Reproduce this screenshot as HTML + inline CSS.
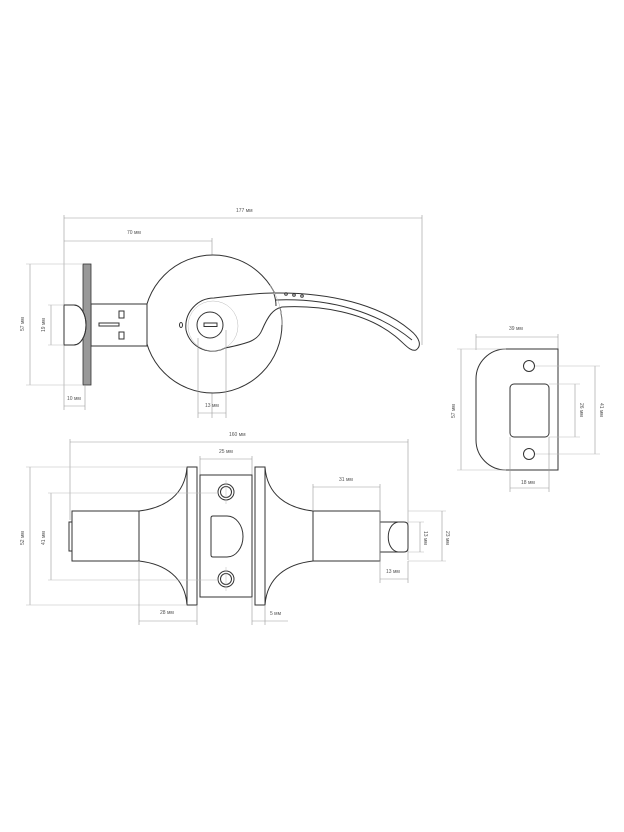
<!DOCTYPE html>
<html><head><meta charset="utf-8"><style>
html,body{margin:0;padding:0;background:#fff;}
svg{display:block}
text{font-family:"Liberation Sans",sans-serif;font-size:5px;fill:#555;}
.o{fill:#fff;stroke:#333;stroke-width:1}
.n{fill:none;stroke:#333;stroke-width:1}
.d{stroke:#999;stroke-width:0.6;fill:none}
.g{stroke:#bbb;stroke-width:0.5;fill:none}
</style></head><body>
<svg width="624" height="832" viewBox="0 0 624 832" xmlns="http://www.w3.org/2000/svg">
<!-- TOP VIEW -->
<g>
<line class="d" x1="64" y1="218" x2="422" y2="218"/><text x="236" y="212">177 мм</text>
<line class="d" x1="64" y1="241" x2="212" y2="241"/><text x="127" y="234">70 мм</text>
<line class="d" x1="64" y1="215" x2="64" y2="410"/>
<line class="d" x1="422" y1="215" x2="422" y2="345"/>
<line class="d" x1="212" y1="238" x2="212" y2="418"/>
<circle class="o" cx="213" cy="324" r="69"/>
<rect class="o" x="91" y="304" width="56" height="42"/>
<rect x="83" y="264" width="8" height="121" fill="#999" stroke="#333" stroke-width="0.8"/>
<path class="o" d="M64 305 H74 A12 20 0 0 1 74 345 H64 Z"/>
<path class="n" d="M74 305 A12 20 0 0 1 74 345"/>
<rect class="n" x="99" y="323" width="20" height="3"/>
<rect class="n" x="119" y="311" width="5" height="7"/>
<rect class="n" x="119" y="332" width="5" height="7"/>
<!-- lever -->
<path class="o" d="M214 298 C240 295 260 293 273 293 C330 292 380 305 410 330 C420 338 422 346 416 350 C410 352 405 344 395 336 C365 312 320 305 282 307 C273 309 268 316 262 330 C258 340 250 343 225 348 C210 356 190 348 186 330 C184 312 198 298 214 298 Z"/>
<path class="n" d="M276 300 C330 298 378 312 412 340" stroke-width="0.7"/>
<path class="n" d="M274 294 C276 300 276 304 276 306" stroke-width="0.7"/>
<path class="g" d="M270 285 A69 69 0 0 1 282 325" stroke="#888"/>
<circle class="g" cx="213" cy="326" r="25" stroke="#999"/>
<circle class="o" cx="210" cy="325" r="13"/>
<rect class="n" x="204" y="323" width="13" height="3.5"/>
<ellipse class="n" cx="181" cy="325" rx="1.5" ry="2.5"/>
<circle cx="286" cy="294" r="1.3" class="n" stroke-width="0.6"/>
<circle cx="294" cy="295" r="1.3" class="n" stroke-width="0.6"/>
<circle cx="302" cy="296" r="1.3" class="n" stroke-width="0.6"/>
<!-- dims -->
<line class="d" x1="30" y1="264" x2="30" y2="385"/><line class="g" x1="26" y1="264" x2="83" y2="264"/><line class="g" x1="26" y1="385" x2="83" y2="385"/>
<text transform="translate(24 331) rotate(-90)">57 мм</text>
<line class="d" x1="51" y1="305" x2="51" y2="345"/><line class="g" x1="48" y1="305" x2="64" y2="305"/><line class="g" x1="48" y1="345" x2="64" y2="345"/>
<text transform="translate(45 332) rotate(-90)">19 мм</text>
<line class="d" x1="85" y1="385" x2="85" y2="410"/>
<line class="d" x1="64" y1="406" x2="85" y2="406"/><text x="67" y="400">10 мм</text>
<line class="d" x1="198" y1="338" x2="198" y2="418"/><line class="d" x1="226" y1="330" x2="226" y2="418"/>
<line class="d" x1="198" y1="413" x2="226" y2="413"/><text x="205" y="407">13 мм</text>
</g>
<!-- STRIKE PLATE -->
<g>
<line class="d" x1="476" y1="337" x2="558" y2="337"/><text x="509" y="330">39 мм</text>
<line class="d" x1="476" y1="334" x2="476" y2="350"/><line class="d" x1="558" y1="334" x2="558" y2="350"/>
<path class="o" d="M506 349 H558 V470 H506 A30 30 0 0 1 476 440 V379 A30 30 0 0 1 506 349 Z"/>
<circle class="o" cx="529" cy="366" r="5.5"/>
<circle class="o" cx="529" cy="454" r="5.5"/>
<rect class="o" x="510" y="384" width="39" height="53" rx="4"/>
<line class="d" x1="461" y1="349" x2="461" y2="470"/><line class="g" x1="457" y1="349" x2="506" y2="349"/><line class="g" x1="457" y1="470" x2="506" y2="470"/>
<text transform="translate(455 418) rotate(-90)">57 мм</text>
<line class="d" x1="575" y1="384" x2="575" y2="437"/><line class="g" x1="549" y1="384" x2="580" y2="384"/><line class="g" x1="549" y1="437" x2="580" y2="437"/>
<text transform="translate(580 403) rotate(90)">26 мм</text>
<line class="d" x1="595" y1="366" x2="595" y2="454"/><line class="g" x1="535" y1="366" x2="600" y2="366"/><line class="g" x1="535" y1="454" x2="600" y2="454"/>
<text transform="translate(600 403) rotate(90)">41 мм</text>
<line class="d" x1="510" y1="437" x2="510" y2="492"/><line class="d" x1="549" y1="437" x2="549" y2="492"/>
<line class="d" x1="510" y1="488" x2="549" y2="488"/><text x="521" y="484">18 мм</text>
</g>
<!-- BOTTOM VIEW -->
<g>
<line class="d" x1="70" y1="442" x2="408" y2="442"/><text x="229" y="436">160 мм</text>
<line class="d" x1="70" y1="439" x2="70" y2="520"/><line class="d" x1="408" y1="439" x2="408" y2="560"/>
<line class="d" x1="200" y1="459" x2="252" y2="459"/><text x="219" y="453">25 мм</text>
<line class="d" x1="200" y1="456" x2="200" y2="476"/><line class="d" x1="252" y1="456" x2="252" y2="476"/>
<path class="o" d="M139 511 C165 508 185 495 187 467 V605 C185 577 165 564 139 561 Z"/>
<rect class="o" x="72" y="511" width="67" height="50"/>
<rect class="o" x="69" y="522" width="3" height="29"/>
<path class="o" d="M313 511 C287 508 267 495 265 467 V605 C267 577 287 564 313 561 Z"/>
<rect class="o" x="313" y="511" width="67" height="50"/>
<path class="o" d="M380 522 H404 Q408 522 408 526 V548 Q408 552 404 552 H380 Z"/>
<path class="n" d="M398 522 C385 524 385 550 398 552"/>
<rect class="o" x="187" y="467" width="10" height="138"/>
<rect class="o" x="255" y="467" width="10" height="138"/>
<rect class="o" x="200" y="475" width="52" height="122"/>
<circle class="o" cx="226" cy="492" r="8"/><circle class="n" cx="226" cy="492" r="5.5"/>
<circle class="o" cx="226" cy="579" r="8"/><circle class="n" cx="226" cy="579" r="5.5"/>
<line class="g" x1="226" y1="480" x2="226" y2="504"/><line class="g" x1="226" y1="567" x2="226" y2="591"/>
<path class="o" d="M213 516 H227 A16 20.5 0 0 1 227 557 H213 Q211 557 211 555 V518 Q211 516 213 516 Z"/>
<line class="d" x1="30" y1="467" x2="30" y2="605"/><line class="g" x1="26" y1="467" x2="187" y2="467"/><line class="g" x1="26" y1="605" x2="187" y2="605"/>
<text transform="translate(24 545) rotate(-90)">52 мм</text>
<line class="d" x1="51" y1="493" x2="51" y2="580"/><line class="g" x1="48" y1="493" x2="218" y2="493"/><line class="g" x1="48" y1="580" x2="218" y2="580"/>
<text transform="translate(45 545) rotate(-90)">41 мм</text>
<line class="d" x1="313" y1="487" x2="380" y2="487"/><text x="339" y="481">31 мм</text>
<line class="d" x1="313" y1="484" x2="313" y2="511"/><line class="d" x1="380" y1="484" x2="380" y2="583"/>
<line class="g" x1="408" y1="511" x2="446" y2="511"/><line class="g" x1="408" y1="561" x2="446" y2="561"/>
<line class="g" x1="408" y1="522" x2="424" y2="522"/><line class="g" x1="408" y1="552" x2="424" y2="552"/>
<line class="d" x1="420" y1="522" x2="420" y2="552"/><text transform="translate(424 531) rotate(90)">13 мм</text>
<line class="d" x1="442" y1="511" x2="442" y2="561"/><text transform="translate(446 531) rotate(90)">23 мм</text>
<line class="d" x1="380" y1="579" x2="408" y2="579"/><text x="386" y="573">13 мм</text>
<line class="d" x1="408" y1="561" x2="408" y2="583"/>
<line class="d" x1="139" y1="561" x2="139" y2="625"/><line class="d" x1="197" y1="605" x2="197" y2="625"/>
<line class="d" x1="139" y1="621" x2="197" y2="621"/><text x="160" y="614">28 мм</text>
<line class="d" x1="252" y1="597" x2="252" y2="625"/><line class="d" x1="265" y1="605" x2="265" y2="625"/>
<line class="d" x1="252" y1="621" x2="288" y2="621"/><text x="270" y="615">5 мм</text>
</g>
</svg>
</body></html>
